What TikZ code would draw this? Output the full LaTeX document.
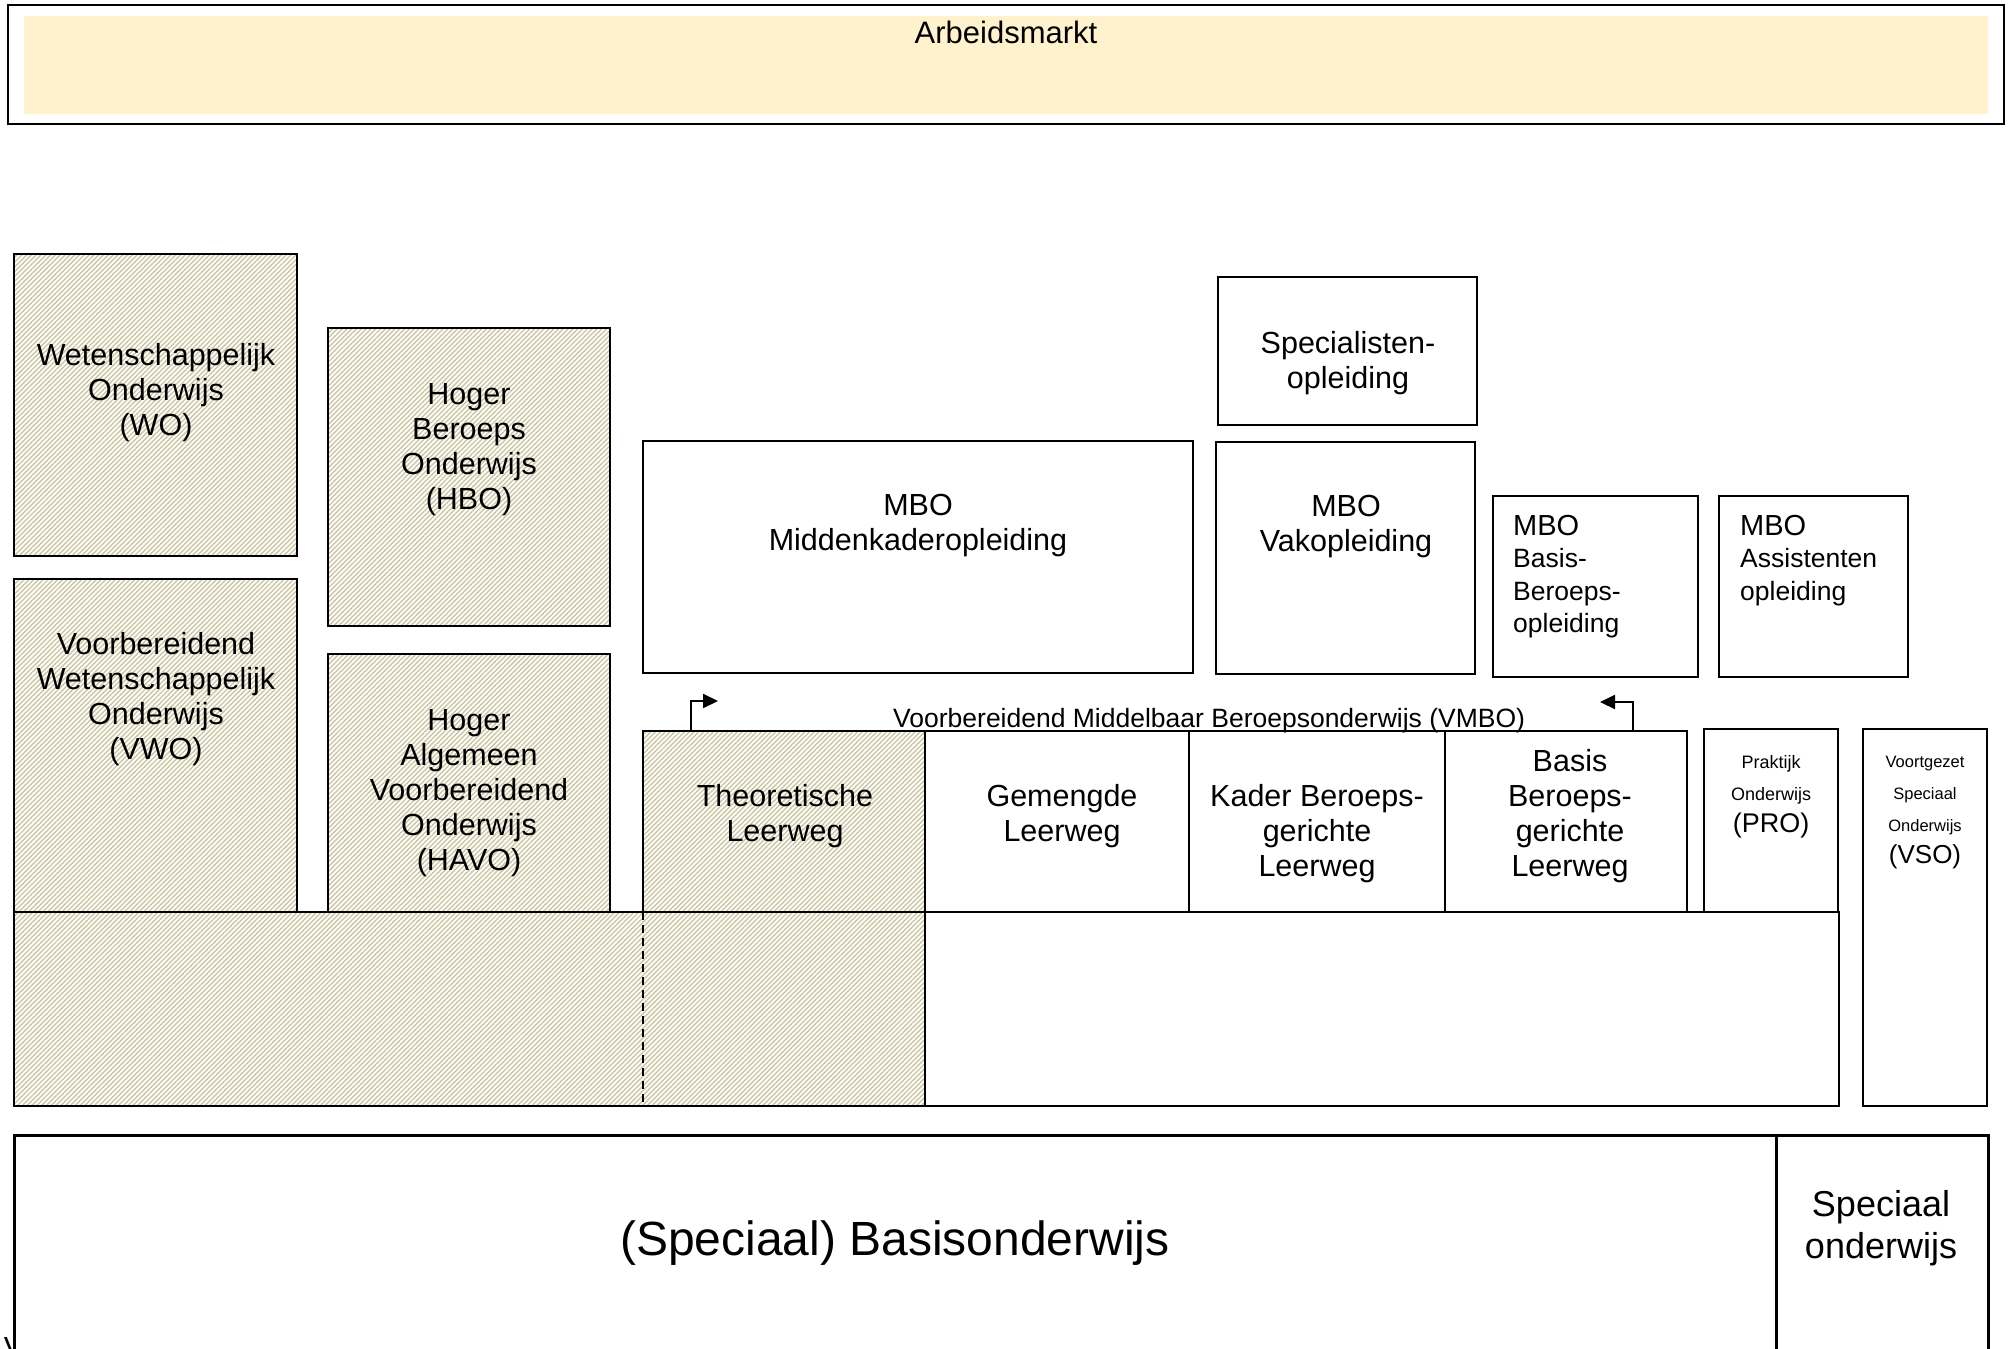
\documentclass[tikz,border=0pt]{standalone}
\usepackage{fontspec}
\setmainfont{Liberation Sans}
\usetikzlibrary{patterns.meta,arrows.meta}
\definecolor{marktgeel}{RGB}{255,242,204}
\definecolor{arceer}{RGB}{204,197,162}
\tikzset{
  vak/.style={draw, line width=2.2pt},
  arceervak/.style={vak, pattern={Lines[angle=45,distance=3.4pt,line width=1.4pt]}, pattern color=arceer},
  tekst/.style={inner sep=0pt, align=center, anchor=north, font=\fontsize{30.5}{35}\selectfont},
  pijl/.style={line width=2.2pt, -{Triangle[length=15pt,width=14pt]}},
}
\begin{document}
\begin{tikzpicture}[x=1pt,y=-1pt]
\fill[white] (0,0) rectangle (2011,1349);
\clip (0,0) rectangle (2011,1349);

% arbeidsmarkt
\draw[line width=2.2pt] (8,5) rectangle (2004,124);
\fill[marktgeel] (24,16) rectangle (1988,114);
\node[tekst, font=\fontsize{31}{35}\selectfont] (arbeid) at (1006,21) {Arbeidsmarkt};

% onderbouw voortgezet onderwijs
\fill[pattern={Lines[angle=45,distance=3.4pt,line width=1.4pt]}, pattern color=arceer] (14,912) rectangle (925,1106);
\draw[vak] (14,912) rectangle (1839,1106);
\draw[vak] (925,912) -- (925,1106);
\draw[line width=2.6pt, dash pattern=on 8pt off 5pt] (643,912) -- (643,1106);

% wo, vwo, hbo, havo
\draw[arceervak] (14,254) rectangle (297,556);
\draw[arceervak] (14,579) rectangle (297,912);
\draw[arceervak] (328,328) rectangle (610,626);
\draw[arceervak] (328,654) rectangle (610,912);
\node[tekst] (wo) at (156,343) {Wetenschappelijk\\Onderwijs\\(WO)};
\node[tekst] (vwo) at (156,632) {Voorbereidend\\Wetenschappelijk\\Onderwijs\\(VWO)};
\node[tekst] (hbo) at (469,383) {Hoger\\Beroeps\\Onderwijs\\(HBO)};
\node[tekst] (havo) at (469,709) {Hoger\\Algemeen\\Voorbereidend\\Onderwijs\\(HAVO)};

% mbo
\draw[vak] (643,441) rectangle (1193,673);
\draw[vak] (1218,277) rectangle (1477,425);
\draw[vak] (1216,442) rectangle (1475,674);
\draw[vak] (1493,496) rectangle (1698,677);
\draw[vak] (1719,496) rectangle (1908,677);
\node[tekst] (mbomk) at (918,494) {MBO\\Middenkaderopleiding};
\node[tekst] (spec) at (1348,331) {Specialisten-\\opleiding};
\node[tekst] (mbovak) at (1346,495) {MBO\\Vakopleiding};
\node[tekst, anchor=north west, align=left, font=\fontsize{26.5}{32.5}\selectfont] (mbobb) at (1513,515) {{\fontsize{29}{32.5}\selectfont MBO}\\Basis-\\Beroeps-\\opleiding};
\node[tekst, anchor=north west, align=left, font=\fontsize{26.5}{32.5}\selectfont] (mboas) at (1740,515) {{\fontsize{29}{32.5}\selectfont MBO}\\Assistenten\\opleiding};

% vmbo
\draw[arceervak] (643,731) rectangle (925,912);
\draw[vak] (925,731) rectangle (1189,912);
\draw[vak] (1189,731) rectangle (1445,912);
\draw[vak] (1445,731) rectangle (1687,912);
\node[tekst, anchor=north west, font=\fontsize{26.5}{30}\selectfont] (vmbo) at (893,708) {Voorbereidend Middelbaar Beroepsonderwijs (VMBO)};
\node[tekst] (tl) at (785,784) {Theoretische\\Leerweg};
\node[tekst] (gl) at (1062,784) {Gemengde\\Leerweg};
\node[tekst] (kbl) at (1317,784) {Kader Beroeps-\\gerichte\\Leerweg};
\node[tekst] (bbl) at (1570,749) {Basis\\Beroeps-\\gerichte\\Leerweg};

\coordinate (tlpijl) at (663,731);
\coordinate (tlpunt) at (718,701);
\coordinate (bblpijl) at (1633,731);
\coordinate (bblpunt) at (1600,702);
\draw[pijl] (tlpijl) -- ++(28,0) |- (tlpunt);
\draw[pijl] (bblpijl) |- (bblpunt);

% pro, vso
\draw[vak] (1704,729) rectangle (1838,912);
\draw[vak] (1863,729) rectangle (1987,1106);
\node[tekst, font=\fontsize{18}{32}\selectfont] (pro) at (1771,755) {Praktijk\\Onderwijs\\{\fontsize{27}{32}\selectfont (PRO)}};
\node[tekst, font=\fontsize{16.5}{32}\selectfont] (vso) at (1925,756) {Voortgezet\\Speciaal\\Onderwijs\\{\fontsize{26}{32}\selectfont (VSO)}};

% basisonderwijs
\node[tekst] (rest) at (14,1337) {V};
\draw[line width=3pt, fill=white] (14,1135) rectangle (1776,1370);
\draw[line width=3pt] (1776,1135) rectangle (1988,1370);
\node[tekst, font=\fontsize{48}{55}\selectfont] (bao) at (895,1221) {(Speciaal) Basisonderwijs};
\node[tekst, font=\fontsize{36}{42}\selectfont] (speco) at (1881,1190) {Speciaal\\onderwijs};
\end{tikzpicture}
\end{document}
